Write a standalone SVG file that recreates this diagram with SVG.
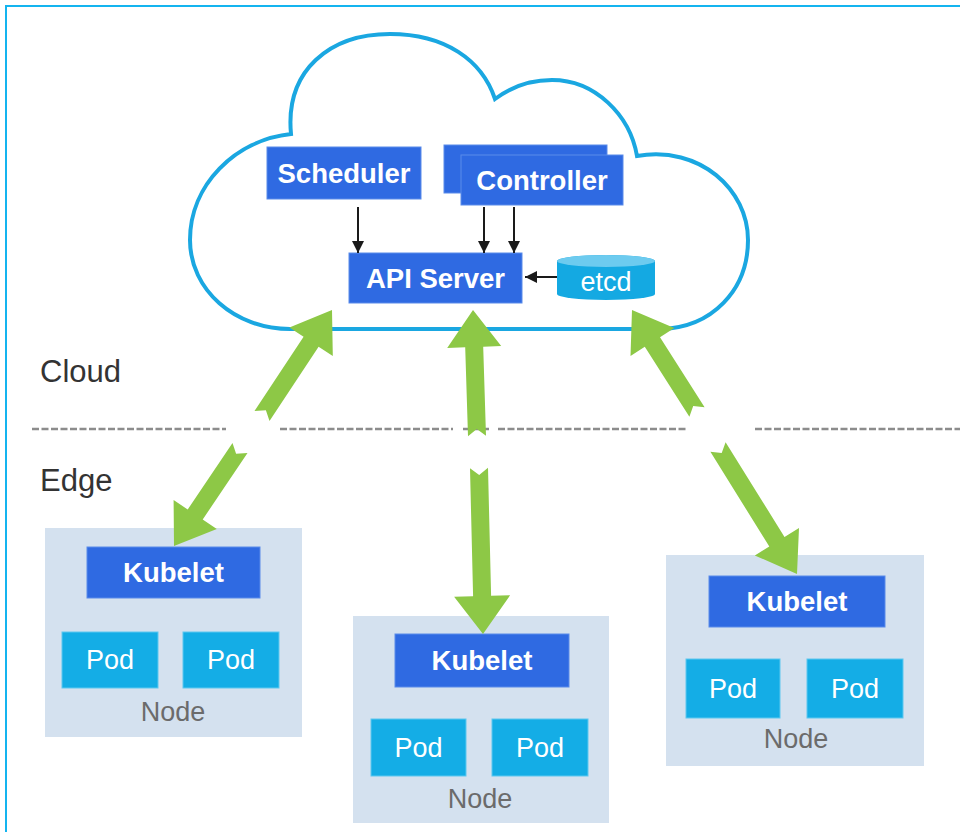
<svg xmlns="http://www.w3.org/2000/svg" width="960" height="832" viewBox="0 0 960 832">
  <defs>
    <style>
      .blue { fill: #2f6ae2; stroke: #5a8bea; stroke-width: 1; }
      .pod { fill: #14ade6; stroke: #5cc8f0; stroke-width: 1; }
      .nodebg { fill: #d4e1ef; }
      .wb { font-family: "Liberation Sans", Arial, sans-serif; font-weight: bold; font-size: 27.5px; fill: #ffffff; text-anchor: middle; }
      .wr { font-family: "Liberation Sans", Arial, sans-serif; font-size: 27px; fill: #ffffff; text-anchor: middle; }
      .nl { font-family: "Liberation Sans", Arial, sans-serif; font-size: 27px; fill: #6b6b6b; text-anchor: middle; }
      .zone { font-family: "Liberation Sans", Arial, sans-serif; font-size: 31px; fill: #333333; }
      .green { fill: #8dc846; }
      .blk { stroke: #1a1a1a; stroke-width: 2; fill: none; }
      .dash { stroke: #8c8c8c; stroke-width: 2.5; stroke-dasharray: 7 2.5; fill: none; }
    </style>
    <marker id="ah" viewBox="0 0 12 12" refX="12" refY="6" markerWidth="12" markerHeight="12" markerUnits="userSpaceOnUse" orient="auto">
      <path d="M0,0 L12,6 L0,12 z" fill="#1a1a1a"/>
    </marker>
  </defs>

  <rect x="0" y="0" width="960" height="832" fill="#ffffff"/>
  <rect x="6" y="6" width="980" height="860" fill="none" stroke="#14b4ef" stroke-width="2"/>

  <!-- Cloud -->
  <g id="cloud">
    <path d="M291,134 C285,70 330,34 390,34 C445,34 482,60 495,99 C515,84 535,80 552,80 C595,80 630,115 637,156 C700,145 748,190 748,240 C748,290 712,328 660,329 L290,329 C235,329 190,290 190,240 C190,185 235,140 291,134 Z" fill="#ffffff" stroke="#1aa7e1" stroke-width="4"/>
  </g>

  <!-- Zone labels -->
  <text class="zone" x="40" y="382">Cloud</text>
  <text class="zone" x="40" y="491">Edge</text>

  <!-- Dashed boundary -->
  <g id="boundary">
    <line class="dash" x1="32" y1="429" x2="226" y2="429"/>
    <line class="dash" x1="280" y1="429" x2="453" y2="429"/>
    <line class="dash" x1="463" y1="429" x2="490" y2="429"/>
    <line class="dash" x1="498" y1="429" x2="688" y2="429"/>
    <line class="dash" x1="755" y1="429" x2="960" y2="429"/>
  </g>

  <!-- Control plane components -->
  <g id="scheduler">
    <rect class="blue" x="267" y="147" width="154" height="52"/>
    <text class="wb" x="344" y="183">Scheduler</text>
  </g>
  <g id="controller">
    <rect class="blue" x="444" y="145" width="163" height="48"/>
    <rect class="blue" x="461" y="155" width="162" height="50"/>
    <text class="wb" x="542" y="190">Controller</text>
  </g>
  <g id="api-server">
    <rect class="blue" x="349" y="253" width="173" height="50"/>
    <text class="wb" x="435.5" y="288">API Server</text>
  </g>
  <g id="etcd">
    <path d="M557,261 L557,294 A49,6 0 0 0 655,294 L655,261 A49,6 0 0 0 557,261 Z" fill="#14a9e2"/>
    <ellipse cx="606" cy="261" rx="49" ry="6" fill="#6dcbef"/>
    <text class="wr" x="606" y="291">etcd</text>
  </g>

  <!-- Edge nodes -->
  <g id="node-left">
    <rect class="nodebg" x="45" y="528" width="257" height="209"/>
    <rect class="blue" x="87" y="547" width="173" height="51"/>
    <text class="wb" x="173.5" y="582">Kubelet</text>
    <rect class="pod" x="62" y="632" width="96" height="56"/>
    <text class="wr" x="110" y="669">Pod</text>
    <rect class="pod" x="183" y="632" width="96" height="56"/>
    <text class="wr" x="231" y="669">Pod</text>
    <text class="nl" x="173" y="721">Node</text>
  </g>
  <g id="node-middle">
    <rect class="nodebg" x="353" y="616" width="256" height="207"/>
    <rect class="blue" x="395" y="634" width="174" height="53"/>
    <text class="wb" x="482" y="670">Kubelet</text>
    <rect class="pod" x="371" y="719" width="95" height="57"/>
    <text class="wr" x="418.5" y="757">Pod</text>
    <rect class="pod" x="492" y="719" width="96" height="57"/>
    <text class="wr" x="540" y="757">Pod</text>
    <text class="nl" x="480" y="808">Node</text>
  </g>
  <g id="node-right">
    <rect class="nodebg" x="666" y="555" width="258" height="211"/>
    <rect class="blue" x="709" y="576" width="176" height="51"/>
    <text class="wb" x="797" y="611">Kubelet</text>
    <rect class="pod" x="686" y="659" width="94" height="59"/>
    <text class="wr" x="733" y="698">Pod</text>
    <rect class="pod" x="807" y="659" width="96" height="59"/>
    <text class="wr" x="855" y="698">Pod</text>
    <text class="nl" x="796" y="748">Node</text>
  </g>

  <!-- Connectors -->
  <g id="connectors">
    <line class="blk" x1="358" y1="207" x2="358" y2="253" marker-end="url(#ah)"/>
    <line class="blk" x1="484" y1="207" x2="484" y2="253" marker-end="url(#ah)"/>
    <line class="blk" x1="514" y1="207" x2="514" y2="253" marker-end="url(#ah)"/>
    <line class="blk" x1="557" y1="277" x2="525" y2="277" marker-end="url(#ah)"/>

    <polygon class="green" points="254.5,411.0 303.6,336.7 289.4,327.4 332,310 332.8,356.0 318.6,346.7 269.5,421.0 265.9,410.2"/>
    <polygon class="green" points="232.5,443.0 187.7,509.5 173.6,500.0 174,546 216.8,529.0 202.7,519.5 247.5,453.0 236.1,453.8"/>
    <polygon class="green" points="468.0,436.3 465.2,347.3 447.2,347.9 473,310 501.2,346.1 483.2,346.7 486.0,435.7 476.8,429.0"/>
    <polygon class="green" points="470.0,468.2 473.1,596.2 454.1,596.7 483,634 510.1,595.3 491.1,595.8 488.0,467.8 479.2,475.0"/>
    <polygon class="green" points="689.4,416.8 644.8,346.8 630.5,356.0 632,310 674.3,328.0 660.0,337.2 704.6,407.2 693.2,406.1"/>
    <polygon class="green" points="710.4,451.8 769.3,546.5 754.8,555.4 797,574 799.0,528.0 784.5,536.9 725.6,442.2 721.7,452.9"/>
  </g>
</svg>
